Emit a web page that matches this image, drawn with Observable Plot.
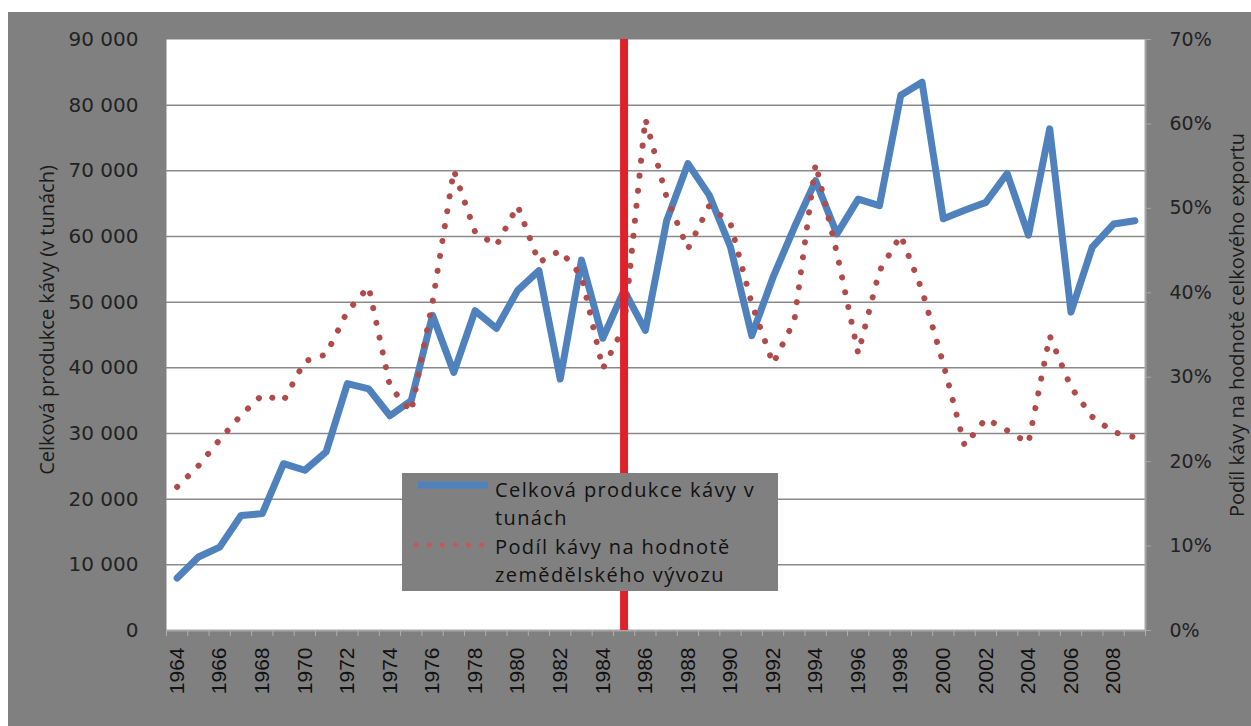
<!DOCTYPE html>
<html>
<head>
<meta charset="utf-8">
<script src="https://cdn.jsdelivr.net/npm/d3@7"></script>
<script src="https://cdn.jsdelivr.net/npm/@observablehq/plot@0.6"></script>
<style>
  html, body { margin: 0; padding: 0; background: #ffffff; }
  #wrap { position: absolute; left: 8px; top: 12px; width: 1243px; height: 714px; background: #808080; overflow: hidden; }
  #chart { position: absolute; left: 0; top: 0; }
  #legend { position: absolute; left: 394px; top: 461px; width: 376px; height: 118px; background: #808080; }
</style>
</head>
<body>
<div id="wrap">
  <div id="chart"></div>
  <div id="legend"></div>
</div>
<script>
// ---- data ----
const years = d3.range(1964, 2010);
const production = [
  8000, 11200, 12700, 17500, 17800, 25400, 24400, 27200, 37600, 36800,
  32700, 35000, 48000, 39300, 48700, 46000, 51800, 54800, 38300, 56400,
  44500, 51800, 45700, 62400, 71100, 66300, 58400, 44900, 53800, 61400,
  68500, 60400, 65700, 64700, 81500, 83500, 62700, 64000, 65200, 69600,
  60200, 76400, 48500, 58400, 61900, 62400
];
const coffeeShare = [
  17.0, 19.5, 22.6, 25.5, 27.9, 27.2, 31.9, 32.7, 37.8, 40.7,
  28.9, 25.9, 38.9, 54.5, 47.2, 45.6, 50.3, 43.6, 45.0, 42.0,
  31.0, 36.0, 60.6, 51.3, 45.2, 50.3, 48.2, 38.7, 31.6, 36.7,
  55.3, 44.7, 32.8, 42.6, 46.8, 40.3, 31.6, 21.9, 25.1, 23.7,
  22.2, 34.9, 28.8, 25.3, 23.5, 22.9
];
const markerYear = [1985];
const leftTicks = [0, 10000, 20000, 30000, 40000, 50000, 60000, 70000, 80000, 90000];
const gridTicks = [10000, 20000, 30000, 40000, 50000, 60000, 70000, 80000];
const rightTicks = [0, 10, 20, 30, 40, 50, 60, 70];
const yearLabels = d3.range(1964, 2009, 2);
const leftTitle = "Celková produkce kávy (v tunách)";
const rightTitle = "Podíl kávy na hodnotě celkového exportu";
const legendLines = [
  ["Celková produkce kávy v", "tunách"],
  ["Podíl kávy na hodnotě", "zemědělského vývozu"]
];

// ---- derived ----
const leftMax = 90000, rightMax = 70;
const toLeft = p => p * leftMax / rightMax;
const rows = years.map((y, i) => ({year: y, tons: production[i], share: coffeeShare[i]}));
const boundaries = d3.range(1963.5, 2010, 1);
const spaceFmt = d3.formatLocale({decimal: ",", thousands: "\u00a0", grouping: [3], currency: ["", ""]}).format(",d");

const blue = "#4f81bd";
const dotRed = "#b04b4b";

const chart = Plot.plot({
  width: 1243,
  height: 714,
  marginLeft: 158,
  marginRight: 106,
  marginTop: 27,
  marginBottom: 96,
  style: {background: "transparent", overflow: "visible"},
  x: {domain: [1963.5, 2009.5]},
  y: {domain: [0, leftMax]},
  marks: [
    Plot.frame({fill: "white", stroke: null}),
    Plot.ruleY(gridTicks, {stroke: "#8a8a8a", strokeWidth: 1.5}),
    Plot.ruleY([0], {stroke: "#a6a6a6", strokeWidth: 2}),
    Plot.ruleX([2009.5], {stroke: "#a6a6a6", strokeWidth: 2}),
    Plot.axisX({ticks: boundaries, tickFormat: () => "", tickSize: 6, stroke: "#b0b0b0", tickPadding: 0, label: null}),
    Plot.axisX({ticks: yearLabels, tickFormat: d => String(d), tickRotate: -90, tickSize: 0, tickPadding: 17,
      fontSize: 21, fontFamily: "Liberation Sans, Arial, sans-serif", fill: "#111", label: null}),
    Plot.axisY({ticks: leftTicks, tickFormat: spaceFmt, tickSize: 0, tickPadding: 28,
      fontSize: 20, fontFamily: "DejaVu Sans, Verdana, sans-serif", fill: "#222", label: null}),
    Plot.axisY({anchor: "right", ticks: rightTicks.map(toLeft), tickFormat: d => Math.round(d * rightMax / leftMax) + "%",
      tickSize: 5, tickPadding: 19, stroke: "#a6a6a6",
      fontSize: 19, fontFamily: "DejaVu Sans, Verdana, sans-serif", fill: "#222", label: null}),
    Plot.text([leftTitle], {frameAnchor: "left", textAnchor: "middle", dx: -119, dy: -15, rotate: -90,
      fontSize: 20, fontFamily: "Open Sans, sans-serif", fill: "#1a1a1a", letterSpacing: "0.6px"}),
    Plot.text([rightTitle], {frameAnchor: "right", textAnchor: "middle", dx: 92, dy: -10, rotate: -90,
      fontSize: 20, fontFamily: "Open Sans, sans-serif", fill: "#1a1a1a", letterSpacing: "1px"}),
    Plot.line(rows, {x: "year", y: "tons", stroke: blue, strokeWidth: 7, strokeLinejoin: "round"}),
    Plot.line(rows, {x: "year", y: d => toLeft(d.share), stroke: dotRed, strokeWidth: 6,
      strokeDasharray: "0.1 15", strokeLinecap: "round"}),
    Plot.ruleX(markerYear, {stroke: "#e0202a", strokeWidth: 8})
  ]
});
document.getElementById("chart").appendChild(chart);

// ---- legend (overlay box) ----
const lg = d3.select("#legend").append("svg").attr("width", 376).attr("height", 118);
lg.append("line").attr("x1", 16).attr("x2", 86).attr("y1", 12).attr("y2", 12)
  .attr("stroke", blue).attr("stroke-width", 7);
lg.append("line").attr("x1", 14).attr("x2", 86).attr("y1", 72).attr("y2", 72)
  .attr("stroke", "#c05a5a").attr("stroke-width", 5).attr("stroke-dasharray", "0.1 13").attr("stroke-linecap", "round");
const lineY = [[24, 52], [81, 109]];
legendLines.forEach((pair, i) => {
  pair.forEach((t, j) => {
    lg.append("text").attr("x", 93).attr("y", lineY[i][j]).text(t)
      .attr("font-family", "Open Sans, sans-serif").attr("font-size", 20)
      .attr("letter-spacing", "1.4px").attr("fill", "#111");
  });
});
</script>
</body>
</html>
